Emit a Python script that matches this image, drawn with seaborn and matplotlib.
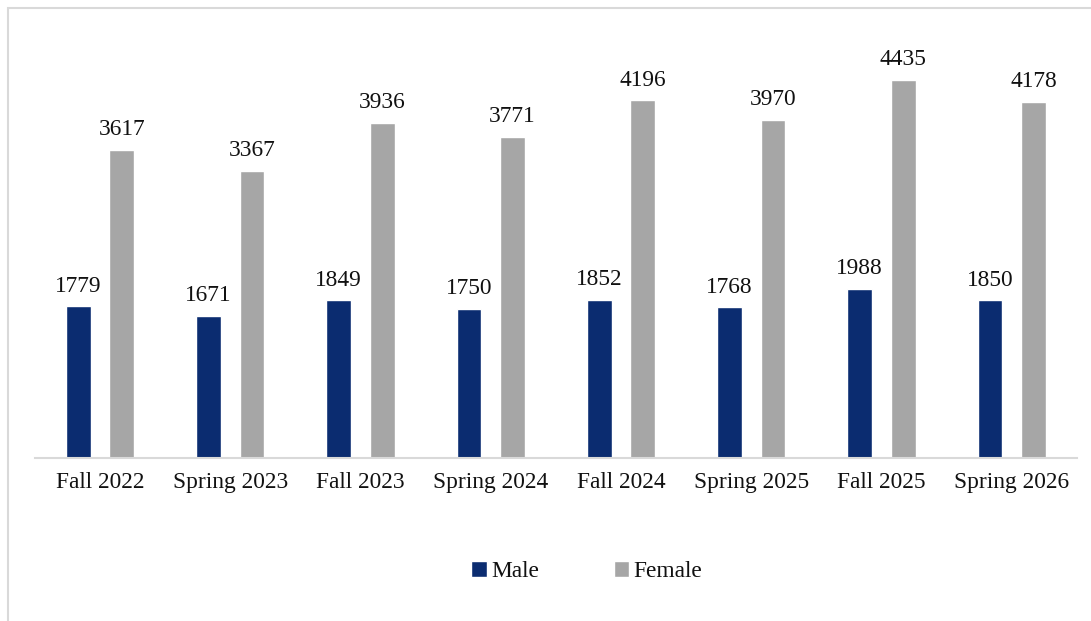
import matplotlib
matplotlib.use("Agg")
import matplotlib.pyplot as plt
from matplotlib.patches import Rectangle
import seaborn as sns
import pandas as pd

terms = ["Fall 2022", "Spring 2023", "Fall 2023", "Spring 2024",
         "Fall 2024", "Spring 2025", "Fall 2025", "Spring 2026"]
male = [1779, 1671, 1849, 1750, 1852, 1768, 1988, 1850]
female = [3617, 3367, 3936, 3771, 4196, 3970, 4435, 4178]
groups = ["Male", "Female"]
colors = ["#0B2C70", "#A6A6A6"]

df = pd.DataFrame({
    "term": terms * 2,
    "count": male + female,
    "gender": ["Male"] * len(terms) + ["Female"] * len(terms),
})

sns.set_style("white")
plt.rcParams["font.family"] = ["Liberation Serif", "DejaVu Serif"]

fig = plt.figure(figsize=(10.91, 6.21), dpi=100)
ax = fig.add_axes([0.032, 0.2625, 0.955, 0.686])

sns.barplot(data=df, x="term", y="count", hue="gender", hue_order=groups,
            palette=colors, width=0.667, gap=0.43, ax=ax, saturation=1)

for cont in ax.containers:
    ax.bar_label(cont, fontsize=16.8, padding=7, color="#111111")

ax.set_ylim(0, 5000)
ax.set_xlim(-0.5, len(terms) - 0.5)
ax.set_yticks([])
ax.set_xlabel("")
ax.set_ylabel("")
ax.tick_params(axis="x", labelsize=16.8, length=0, pad=10, colors="#111111")
for side in ["left", "right", "top"]:
    ax.spines[side].set_visible(False)
ax.spines["bottom"].set_color("#D9D9D9")
ax.spines["bottom"].set_linewidth(1.5)

ax.legend_.remove()
handles, labels = ax.get_legend_handles_labels()
fig.legend(handles, labels, loc="center", bbox_to_anchor=(0.538, 0.079),
           ncol=2, frameon=False,
           prop={"family": "Liberation Serif", "size": 16.8},
           labelcolor="#111111", handlelength=0.65, handleheight=0.65,
           handletextpad=0.2, columnspacing=3.2)

fig.patches.append(Rectangle((8 / 1091, -0.1), 1.1, 1.1 - 8 / 621,
                             transform=fig.transFigure, fill=False,
                             edgecolor="#D9D9D9", linewidth=1.5))

fig.savefig("out.png", dpi=100)
